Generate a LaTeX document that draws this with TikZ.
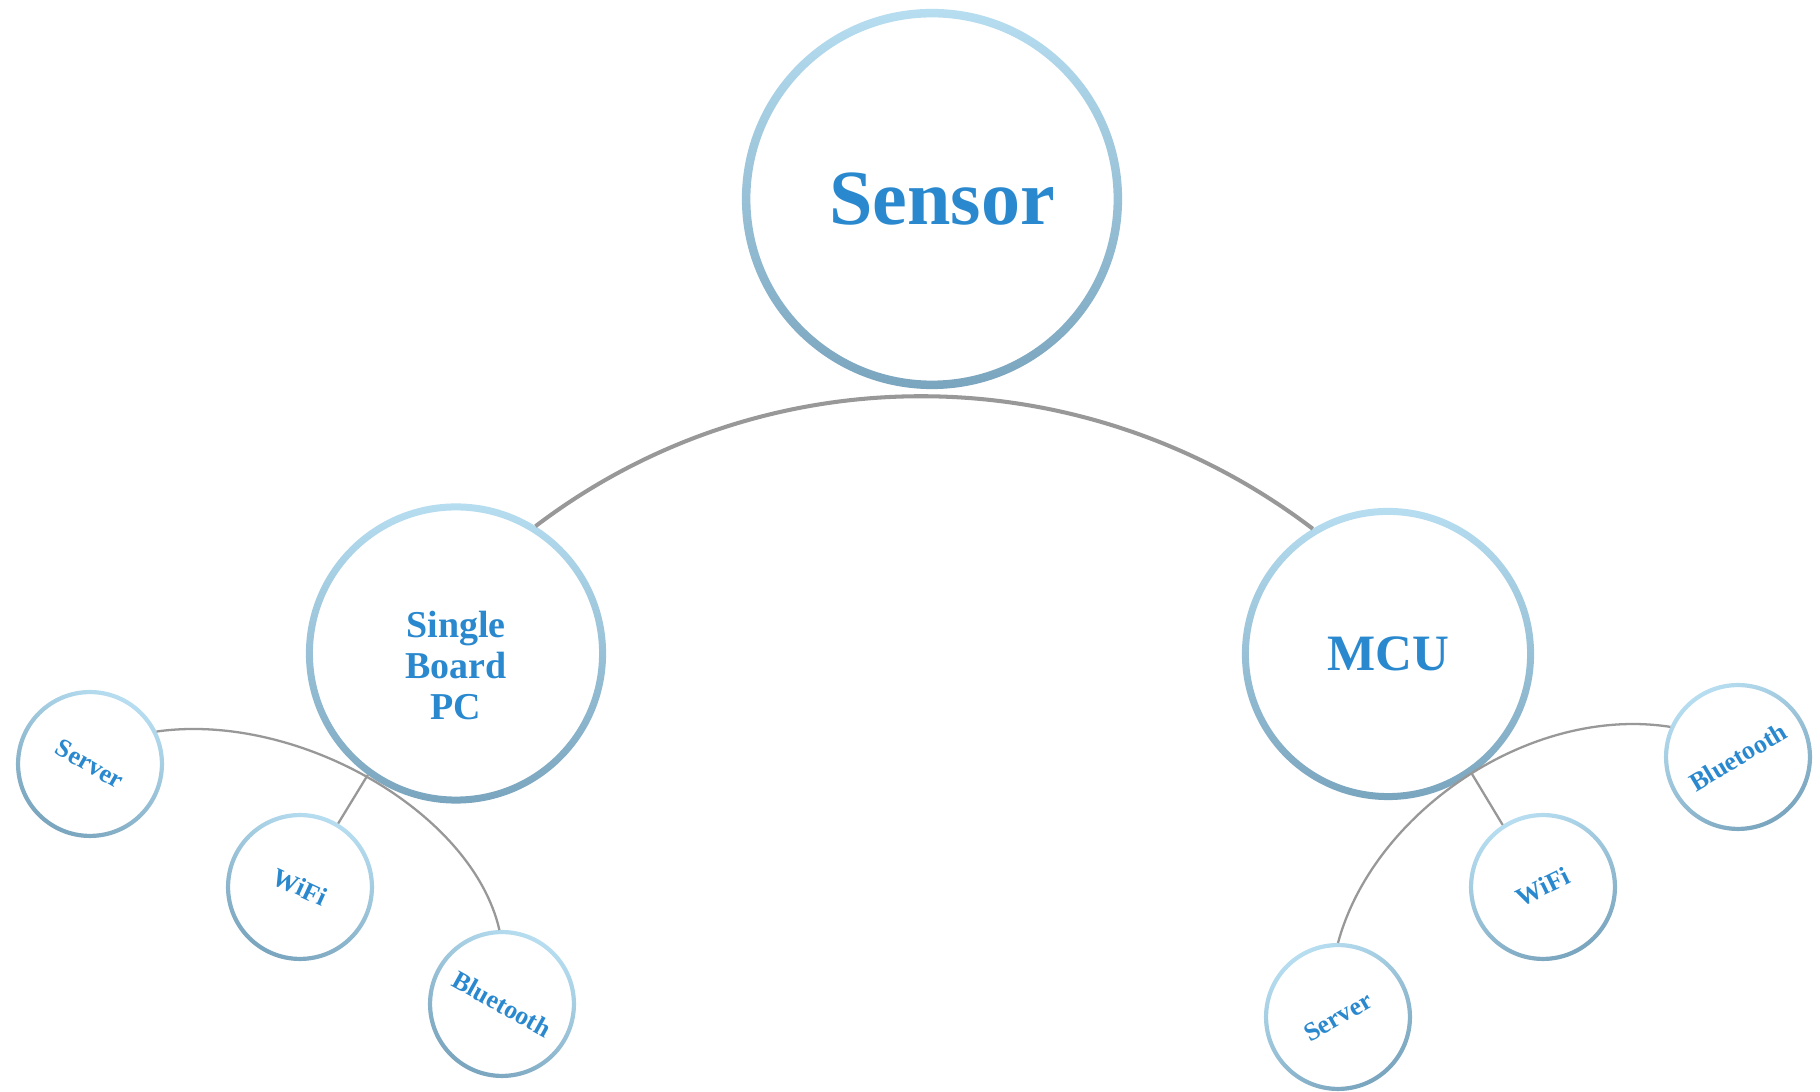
\documentclass[tikz,border=0pt]{standalone}
\usepackage{fontspec}
\usepackage{graphicx}
\setmainfont{Liberation Serif}
\definecolor{ringtop}{RGB}{182,221,240}
\definecolor{ringbot}{RGB}{122,165,190}
\definecolor{txtblue}{RGB}{42,137,206}
\definecolor{linkgray}{RGB}{152,152,152}
\tikzset{
  ring/.style n args={3}{circle, minimum size=#1, inner sep=0pt, outer sep=0pt,
    text=txtblue, align=center,
    path picture={\shade[top color=ringtop, bottom color=ringbot, shading angle=#3, even odd rule]
      (path picture bounding box.center) circle[radius=#1/2]
      (path picture bounding box.center) circle[radius=#1/2-#2];}},
  bigtext/.style={font=\fontsize{22.2}{26}\selectfont\bfseries},
  midtext/.style={font=\fontsize{10.8}{11.7}\selectfont\bfseries},
  mcutext/.style={font=\fontsize{14.5}{17}\selectfont\bfseries},
  smallring/.style={ring={1.48cm}{0.042cm}{#1}, font=\fontsize{7.4}{9}\selectfont\bfseries},
  mainlink/.style={draw=linkgray, line width=1.15pt},
  sublink/.style={draw=linkgray, line width=0.65pt}
}
\begin{document}
\begin{tikzpicture}[x=0.01cm, y=-0.01cm]
\useasboundingbox (0,0) rectangle (1820,1092);
\fill[white] (0,0) rectangle (1820,1092);
% main nodes
\node[ring={3.8cm}{0.085cm}{0}, bigtext] (sensor) at (932,199) {\hspace*{0.2cm}Sensor};
\node[ring={3cm}{0.07cm}{0}, midtext] (sbpc) at (456,653.5) {\rule{0pt}{0.5cm}Single\\Board\\PC};
\node[ring={2.92cm}{0.07cm}{0}, mcutext] (mcu) at (1388,654) {MCU};
% leaves
\node[smallring=-30] (srvL) at (90,764) {\rotatebox{-30}{Server}};
\node[smallring=-25] (wifiL) at (300,887) {\rotatebox{-25}{WiFi}};
\node[smallring=-29] (btL) at (502,1004) {\rotatebox{-29}{Bluetooth}};
\node[smallring=30] (srvR) at (1338,1017) {\rotatebox{30}{Server}};
\node[smallring=26] (wifiR) at (1543,887) {\rotatebox{26}{WiFi}};
\node[smallring=31] (btR) at (1738,757) {\rotatebox{31}{Bluetooth}};
% connectors
\draw[mainlink] (sbpc.58) .. controls +(230,-175) and +(-230,-175) .. (mcu.121);
\draw[sublink] (srvL.26) .. controls +(141,-20) and +(-27,-118) .. (btL.92);
\draw[sublink] (sbpc.234) -- (wifiL.59);
\draw[sublink] (btR.156) .. controls +(-141,-22) and +(35,-130) .. (srvR.90);
\draw[sublink] (mcu.305) -- (wifiR.123);
\end{tikzpicture}
\end{document}
